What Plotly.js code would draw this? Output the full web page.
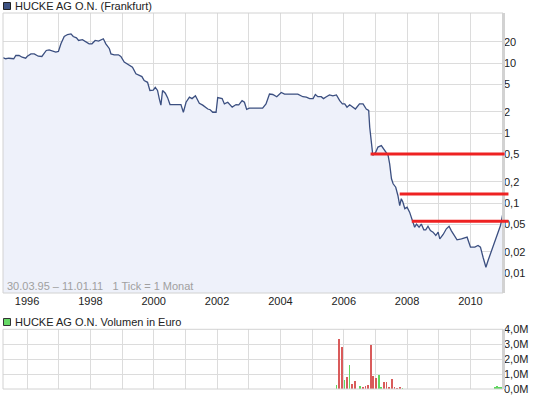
<!DOCTYPE html>
<html><head><meta charset="utf-8">
<script src="https://cdn.plot.ly/plotly-3.0.1.min.js"></script>
<style>html,body{margin:0;padding:0;background:#fff}#chart{width:545px;height:398px}</style>
</head><body><div id="chart"></div>
<script>
// ---- data ----
const dates = [
'1995-03-30','1995-05-01','1995-06-05','1995-08-01','1995-08-25','1995-10-01','1995-11-06','1995-12-16',
'1996-01-05','1996-02-15','1996-03-25','1996-05-10','1996-06-20','1996-07-15','1996-08-10','1996-09-12','1996-10-20','1996-11-28','1996-12-28',
'1997-01-26','1997-03-05','1997-04-12','1997-05-22','1997-06-17','1997-07-24','1997-08-18','1997-10-01','1997-11-10','1997-12-17',
'1998-01-19','1998-02-25','1998-04-05','1998-05-30','1998-06-28','1998-08-08','1998-08-26','1998-10-02','1998-11-20','1998-12-18',
'1999-01-26','1999-03-06','1999-04-12','1999-05-01','1999-06-10','1999-07-18','1999-08-18','1999-09-13','1999-10-22','1999-11-18','1999-12-27',
'2000-01-19','2000-02-14','2000-03-05','2000-03-24','2000-04-12','2000-05-14','2000-06-09','2000-07-07','2000-10-22','2000-11-10','2000-12-08',
'2001-01-08','2001-02-16','2001-03-18','2001-04-26','2001-06-10','2001-07-19','2001-09-16','2001-10-13','2001-11-12','2001-12-20',
'2002-01-08','2002-02-28','2002-03-26','2002-05-04','2002-05-31','2002-06-24','2002-08-08','2002-09-08','2002-10-16','2002-11-12','2002-12-08',
'2003-01-08','2003-06-10','2003-07-19','2003-08-28','2003-10-05','2003-11-20',
'2004-01-11','2004-02-18','2004-03-28','2004-07-20','2004-09-16','2004-10-26','2004-12-03',
'2005-01-12','2005-02-07','2005-03-08','2005-04-16','2005-05-12','2005-06-14','2005-07-20','2005-08-28','2005-10-08','2005-11-15','2005-12-16',
'2006-01-12','2006-02-07','2006-03-10','2006-04-08','2006-05-15','2006-07-01','2006-08-11','2006-09-17','2006-10-15','2006-10-27','2006-11-14','2006-12-02',
'2007-01-04','2007-01-30','2007-03-10','2007-04-17','2007-05-27','2007-06-14','2007-07-05','2007-07-24','2007-08-23','2007-09-17','2007-10-08','2007-10-26','2007-11-13','2007-12-06',
'2008-01-01','2008-01-30','2008-03-03','2008-03-28','2008-04-18','2008-05-18','2008-06-13','2008-07-12','2008-08-03','2008-08-29','2008-09-26','2008-10-26','2008-11-27','2008-12-24',
'2009-01-12','2009-02-20','2009-03-29','2009-04-29','2009-05-26','2009-06-30','2009-07-30','2009-09-19','2009-11-23',
'2010-01-01','2010-02-20','2010-03-29','2010-04-26','2010-05-26','2010-06-28','2010-07-23','2010-09-01','2010-10-09','2010-11-17','2010-12-13','2011-01-11'
];
const prices = [
11.9,11.5,11.7,11.5,12.8,12.8,12.1,11.7,
12.5,13.5,13.5,12.5,12.4,13.5,15.1,15.4,14.7,14.3,14.6,
18.8,23.9,25.5,26.1,23.9,22.9,21.0,21.5,19.8,18.8,
18.8,21.0,20.5,22.2,18.8,16.0,13.5,13.1,13.1,12.4,
10.3,9.7,9.2,8.7,7.0,6.6,6.4,5.6,5.3,4.05,4.1,
4.5,4.05,3.1,2.5,4.05,3.7,3.2,2.55,2.55,2.55,1.98,
2.75,3.25,3.1,3.4,2.65,2.5,2.2,2.15,1.98,1.98,
3.2,3.1,2.6,2.75,2.5,2.34,2.55,2.53,2.9,2.75,2.17,
2.26,2.26,2.6,3.6,3.55,3.3,
3.8,3.6,3.6,3.6,3.3,3.25,3.1,
3.1,3.55,3.3,3.3,3.1,3.3,3.5,3.4,3.5,2.9,2.6,
2.6,2.34,2.53,2.4,2.2,2.6,2.6,2.2,2.1,1.21,0.78,0.48,
0.53,0.63,0.66,0.56,0.48,0.363,0.222,0.188,0.168,0.128,0.092,0.115,0.103,0.083,
0.087,0.074,0.053,0.045,0.050,0.045,0.050,0.0414,0.0414,0.0466,0.0405,0.0383,0.0343,0.0383,
0.0308,0.0355,0.0428,0.0466,0.040,0.0343,0.0298,0.0308,0.0325,
0.0234,0.0234,0.0247,0.0234,0.0168,0.0121,0.0151,0.021,0.0291,0.0383,0.0477,0.072
];
const volDates = ['2005-10-08','2005-11-08','2005-12-08','2006-01-08','2006-02-08','2006-03-08','2006-04-08','2006-05-08',
'2006-07-08','2006-08-08','2006-09-08','2006-10-08','2006-11-08','2006-12-08','2007-01-08','2007-02-08','2007-03-08',
'2007-04-08','2007-05-08','2007-06-08','2007-07-08','2007-08-08','2007-09-08','2007-10-08','2007-11-08',
'2010-10-08','2010-11-01','2010-11-25','2010-12-18'];
const volValues = [290000,3380000,2840000,620000,820000,1620000,360000,560000,
220000,160000,220000,290000,2980000,890000,760000,960000,160000,
440000,490000,160000,690000,160000,90000,160000,70000,
160000,230000,160000,110000];
const volUp = [1,0,0,1,0,1,0,0, 1,0,0,0,0,0,0,1,1, 0,0,0,0,0,0,0,1, 1,1,1,1];
const levelValues = [0.5, 0.135, 0.055];
const levelStart = ['2006-11-06','2007-10-08','2008-02-24'];
const levelEnd = ['2011-01-30','2011-03-15','2011-03-15'];
const yTickVals = [0.01,0.02,0.05,0.1,0.2,0.5,1,2,5,10,20];
const yTickText = ['0,01','0,02','0,05','0,1','0,2','0,5','1','2','5','10','20'];
const volTickVals = [0,1e6,2e6,3e6,4e6];
const volTickText = ['0,0M','1,0M','2,0M','3,0M','4,0M'];
const xRange = ['1995-03-30','2011-01-11'];
const titleMain = 'HUCKE AG O.N. (Frankfurt)';
const titleVol = 'HUCKE AG O.N. Volumen in Euro';
const infoText = '30.03.95 \u2013 11.01.11   1 Tick = 1 Monat';

// ---- geometry helpers ----
const W = 545, H = 398, M = {l:3, r:42, t:13, b:9};
const PW = W - M.l - M.r, PH = H - M.t - M.b;
const px = x => (x - M.l) / PW;
const py = y => (H - M.b - y) / PH;
const t0 = Date.parse(xRange[0]), t1 = Date.parse(xRange[1]);
const dx = d => (Date.parse(d) - t0) / (t1 - t0);

const FONT = 'Liberation Sans, Arial, sans-serif';
const GRID = '#dcdcdc', BORDER = '#d2d2d2';
const mainDom = [py(293), 1];
const volDom = [0, py(329.3)];

const traces = [
  {x:[dates[0], dates[dates.length-1]], y:[0.001,0.001], type:'scatter', mode:'lines',
   line:{width:0, color:'rgba(0,0,0,0)'}, hoverinfo:'skip', showlegend:false, xaxis:'x', yaxis:'y'},
  {x:dates, y:prices, type:'scatter', mode:'lines', fill:'tonexty', fillcolor:'#eef1fa',
   line:{color:'#3b4f80', width:1.3, shape:'linear'}, showlegend:false, xaxis:'x', yaxis:'y'},
  {x:volDates, y:volValues, type:'bar', width:20*86400000,
   marker:{color:volUp.map(u => u ? '#5fd65f' : '#d95b5b'), line:{width:0}},
   showlegend:false, xaxis:'x2', yaxis:'y2'}
];

const shapes = [];
// plot frames
[[mainDom],[volDom]].forEach(([dom]) => {
  shapes.push({type:'rect', xref:'paper', yref:'paper', x0:0, x1:1, y0:dom[0], y1:dom[1],
    line:{color:BORDER, width:1}, layer:'above'});
  shapes.push({type:'line', xref:'paper', yref:'paper', x0:1 + 0.5/PW, x1:1 + 0.5/PW, y0:dom[0], y1:dom[1],
    line:{color:BORDER, width:3}, layer:'above'});
});
// red levels
levelValues.forEach((v, i) => {
  shapes.push({type:'line', xref:'paper', yref:'y', x0:dx(levelStart[i]), x1:dx(levelEnd[i]), y0:v, y1:v,
    line:{color:'#ee2222', width:3}, layer:'above'});
});
// legend squares
shapes.push({type:'rect', xref:'paper', yref:'paper', x0:px(3.5), x1:px(10.5), y0:py(9.5), y1:py(2.5),
  fillcolor:'#3d5282', line:{color:'#222', width:1}});
shapes.push({type:'rect', xref:'paper', yref:'paper', x0:px(3.5), x1:px(10.5), y0:py(325.5), y1:py(318.5),
  fillcolor:'#66d966', line:{color:'#333', width:1}});

const annotations = [
  {text:titleMain, xref:'paper', yref:'paper', x:px(13), y:py(6), xanchor:'left', yanchor:'middle',
   showarrow:false, font:{family:FONT, size:11, color:'#222'}},
  {text:titleVol, xref:'paper', yref:'paper', x:px(13), y:py(322), xanchor:'left', yanchor:'middle',
   showarrow:false, font:{family:FONT, size:11, color:'#222'}},
  {text:infoText, xref:'paper', yref:'paper', x:px(5), y:py(285.5), xanchor:'left', yanchor:'middle',
   showarrow:false, font:{family:FONT, size:11, color:'#a0a0a0'}}
];

const layout = {
  width:W, height:H, margin:M, paper_bgcolor:'#fff', plot_bgcolor:'#fff',
  font:{family:FONT, size:11, color:'#222'}, showlegend:false, bargap:0,
  xaxis:{type:'date', range:xRange, domain:[0,1], anchor:'y', tick0:'1996-01-01', dtick:'M24',
    tickformat:'%Y', showgrid:true, gridcolor:GRID, gridwidth:1, zeroline:false, showline:false, ticks:'',
    tickfont:{family:FONT, size:11, color:'#222'},
    minor:{dtick:'M12', tick0:'1996-01-01', showgrid:true, gridcolor:GRID, gridwidth:1}},
  yaxis:{type:'log', domain:mainDom, anchor:'x', side:'right', range:[Math.log10(0.00518), Math.log10(51.8)],
    tickvals:yTickVals, ticktext:yTickText, showgrid:true, gridcolor:GRID, zeroline:false, showline:false, ticks:'',
    tickfont:{family:FONT, size:11, color:'#222'}},
  xaxis2:{type:'date', range:xRange, domain:[0,1], anchor:'y2', matches:'x', tick0:'1996-01-01', dtick:'M12',
    showticklabels:false, showgrid:true, gridcolor:GRID, zeroline:false, showline:false, ticks:''},
  yaxis2:{domain:volDom, anchor:'x2', side:'right', range:[0,4e6], tickvals:volTickVals, ticktext:volTickText,
    showgrid:true, gridcolor:GRID, zeroline:false, showline:false, ticks:'',
    tickfont:{family:FONT, size:11, color:'#222'}},
  shapes:shapes, annotations:annotations
};

Plotly.newPlot('chart', traces, layout, {displayModeBar:false, staticPlot:true});
</script></body></html>
